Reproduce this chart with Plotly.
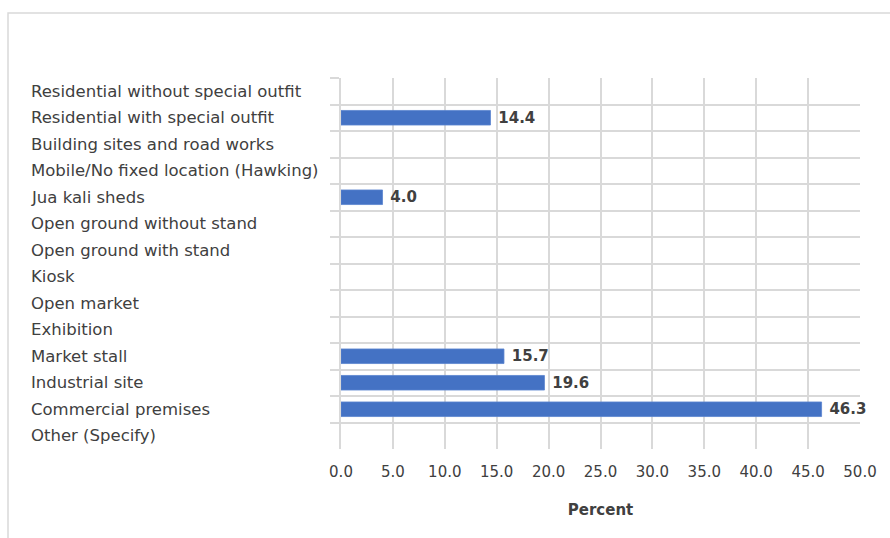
import plotly.graph_objects as go

# Workplace categories, listed top to bottom as they appear on the chart
categories = [
    "Residential without special outfit",
    "Residential with special outfit",
    "Building sites and road works",
    "Mobile/No fixed location (Hawking)",
    "Jua kali sheds",
    "Open ground without stand",
    "Open ground with stand",
    "Kiosk",
    "Open market",
    "Exhibition",
    "Market stall",
    "Industrial site",
    "Commercial premises",
    "Other (Specify)",
]
percent = [None, 14.4, None, None, 4.0, None, None, None, None, None, 15.7, 19.6, 46.3, None]
x_ticks = [0, 5, 10, 15, 20, 25, 30, 35, 40, 45, 50]

FONT = "DejaVu Sans"
GRID = "#d9d9d9"
TEXT = "#404040"

labels = [f"\u00a0<b>{v:.1f}</b>" if v is not None else "" for v in percent]

fig = go.Figure(
    go.Bar(
        x=percent,
        y=categories,
        orientation="h",
        marker=dict(color="#4472c4", line=dict(color="#5b84cf", width=0.8)),
        width=0.55,
        text=labels,
        textposition="outside",
        constraintext="none",
        textfont=dict(family=FONT, size=15, color=TEXT),
        cliponaxis=False,
        hoverinfo="skip",
    )
)

# Left-aligned category labels
for cat in categories:
    fig.add_annotation(
        x=-0.601, xref="paper", y=cat, yref="y",
        text=cat, showarrow=False, xanchor="left", yanchor="middle",
        font=dict(family=FONT, size=16.5, color=TEXT),
    )

# Outer chart frame
fig.add_shape(
    type="rect", xref="paper", yref="paper",
    x0=-0.6416, x1=3, y0=-3, y1=1.175,
    line=dict(color=GRID, width=1.5), layer="below",
)

fig.update_layout(
    width=890, height=538,
    margin=dict(l=341, r=30, t=78, b=89),
    paper_bgcolor="white", plot_bgcolor="white",
    showlegend=False,
    xaxis=dict(
        range=[0, 50], tickvals=x_ticks, ticktext=[f"{t:.1f}" for t in x_ticks],
        showgrid=True, gridcolor=GRID, gridwidth=1.5,
        zeroline=False, showline=False, ticks="",
        ticklabelstandoff=12,
        tickfont=dict(family=FONT, size=15, color=TEXT),
        title=dict(text="<b>Percent</b>", font=dict(family=FONT, size=15, color=TEXT), standoff=24),
    ),
    yaxis=dict(
        type="category", categoryorder="array", categoryarray=categories,
        autorange="reversed",
        tickson="boundaries", ticks="outside", ticklen=9, tickcolor=GRID, tickwidth=1.5,
        showgrid=True, gridcolor=GRID, gridwidth=1.5,
        showline=True, linecolor=GRID, linewidth=1.5,
        showticklabels=False, zeroline=False,
    ),
)

fig.write_html("out.html")
